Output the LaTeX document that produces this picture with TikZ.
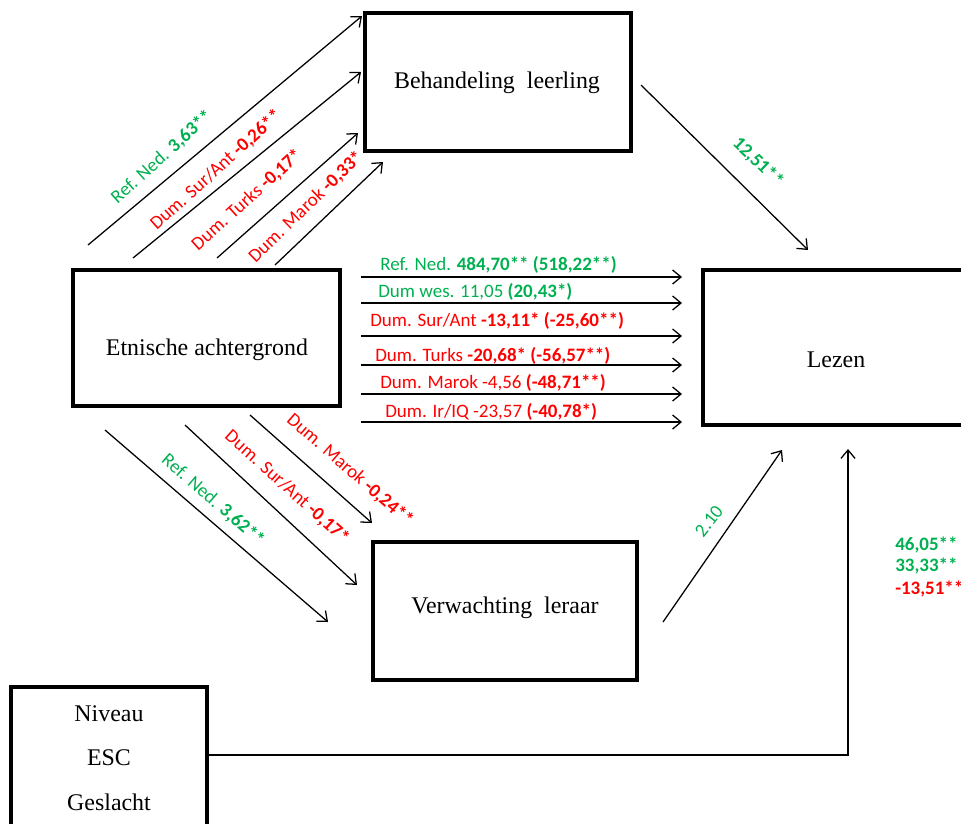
\documentclass[tikz,border=0pt]{standalone}
\usepackage{fontspec}
\setmainfont{Liberation Serif}
\newfontfamily\calib{Carlito}
\usetikzlibrary{arrows.meta}
\definecolor{refgreen}{RGB}{0,176,80}
\definecolor{dumred}{RGB}{255,0,0}
\tikzset{
  box/.style={draw, line width=2.2pt, minimum width=6.65cm, minimum height=3.45cm},
  boxtext/.style={font=\fontsize{17}{20}\selectfont, inner sep=0pt},
  effect/.style={->, line width=.9pt},
  coef/.style={font=\calib\fontsize{13.5}{16}\selectfont, inner sep=0pt},
}
\begin{document}
\begin{tikzpicture}[x=0.025cm, y=-0.025cm, >={Straight Barb[length=6pt,width=10pt]}]
\clip (0,0) rectangle (961,823);
% boxes
\node[box] (beh) at (498,82) {}; \node[boxtext] (beh-t) at (497,83) {Behandeling~~leerling};
\node[box, minimum width=6.675cm, minimum height=3.4cm] (etn) at (206.5,338) {}; \node[boxtext] (etn-t) at (207,350) {Etnische achtergrond};
\node[box, minimum height=3.875cm] (lez) at (836,347.5) {}; \node[boxtext] (lez-t) at (836,360) {Lezen};
\node[box, minimum width=6.6cm] (ver) at (505,611) {}; \node[boxtext] (ver-t) at (505,608) {Verwachting~~leraar};
\node[box, minimum width=4.9cm, minimum height=3.7cm] (niv) at (109,761) {};
\node[boxtext] (niv-1) at (109,714) {Niveau}; \node[boxtext] (niv-2) at (109,758) {ESC}; \node[boxtext] (niv-3) at (109,802) {Geslacht};

% etnische achtergrond -> behandeling leerling
\coordinate (u1a) at (88,245); \coordinate (u1b) at (362,16); \draw[effect] (u1a) -- (u1b);
\coordinate (u2a) at (133,258); \coordinate (u2b) at (361,72); \draw[effect] (u2a) -- (u2b);
\coordinate (u3a) at (217,258); \coordinate (u3b) at (358,133); \draw[effect] (u3a) -- (u3b);
\coordinate (u4a) at (275,265); \coordinate (u4b) at (383,162); \draw[effect] (u4a) -- (u4b);
\node[coef, text=refgreen, rotate=42] (u1l) at (162,157) {Ref. Ned. \textbf{3,63**}};
\node[coef, text=dumred, rotate=42] (u2l) at (216,170) {Dum. Sur/Ant \textbf{-0,26**}};
\node[coef, text=dumred, rotate=42] (u3l) at (247,200) {Dum. Turks \textbf{-0,17*}};
\node[coef, text=dumred, rotate=44] (u4l) at (306,207) {Dum. Marok \textbf{-0,33*}};

% etnische achtergrond -> lezen
\foreach \i/\y in {1/277,2/303,3/336,4/365,5/394,6/422}{
  \coordinate (h\i a) at (361,\y); \coordinate (h\i b) at (682,\y); \draw[effect] (h\i a) -- (h\i b);
}
\node[coef, text=refgreen, anchor=west] (h1l) at (380,265) {Ref. Ned. \textbf{484,70** (518,22**)}};
\node[coef, text=refgreen, anchor=west] (h2l) at (378,292) {Dum wes. 11,05 \textbf{(20,43*)}};
\node[coef, text=dumred, anchor=west] (h3l) at (370,321) {Dum. Sur/Ant \textbf{-13,11* (-25,60**)}};
\node[coef, text=dumred, anchor=west] (h4l) at (375,356) {Dum. Turks \textbf{-20,68* (-56,57**)}};
\node[coef, text=dumred, anchor=west] (h5l) at (380,383) {Dum. Marok -4,56 \textbf{(-48,71**)}};
\node[coef, text=dumred, anchor=west] (h6l) at (385,412) {Dum. Ir/IQ -23,57 \textbf{(-40,78*)}};

% etnische achtergrond -> verwachting leraar
\coordinate (d1a) at (105,430); \coordinate (d1b) at (328,622); \draw[effect] (d1a) -- (d1b);
\coordinate (d2a) at (185,425); \coordinate (d2b) at (357,585); \draw[effect] (d2a) -- (d2b);
\coordinate (d3a) at (250,415); \coordinate (d3b) at (372,523); \draw[effect] (d3a) -- (d3b);
\node[coef, text=refgreen, rotate=-41] (d1l) at (213,500) {Ref. Ned. \textbf{3,62**}};
\node[coef, text=dumred, rotate=-42] (d2l) at (287,487) {Dum. Sur/Ant \textbf{-0,17*}};
\node[coef, text=dumred, rotate=-41] (d3l) at (350,470) {Dum. Marok \textbf{-0,24**}};

% mediators -> lezen
\coordinate (b1a) at (641,85); \coordinate (b1b) at (808,250); \draw[effect] (b1a) -- (b1b);
\node[coef, text=refgreen, rotate=-44] (b1l) at (758,162) {\textbf{12,51**}};
\coordinate (v1a) at (663,622); \coordinate (v1b) at (782,450); \draw[effect] (v1a) -- (v1b);
\node[coef, text=refgreen, rotate=52] (v1l) at (709,521) {2.10};

% controls -> lezen
\coordinate (c1) at (848,449); \draw[effect] (niv.east |- 0,755) -| (c1);
\node[coef, text=refgreen, anchor=west] (c1l) at (895,545) {\textbf{46,05**}};
\node[coef, text=refgreen, anchor=west] (c2l) at (895,566) {\textbf{33,33**}};
\node[coef, text=dumred, anchor=west] (c3l) at (895,589) {\textbf{-13,51**}};
\end{tikzpicture}
\end{document}
